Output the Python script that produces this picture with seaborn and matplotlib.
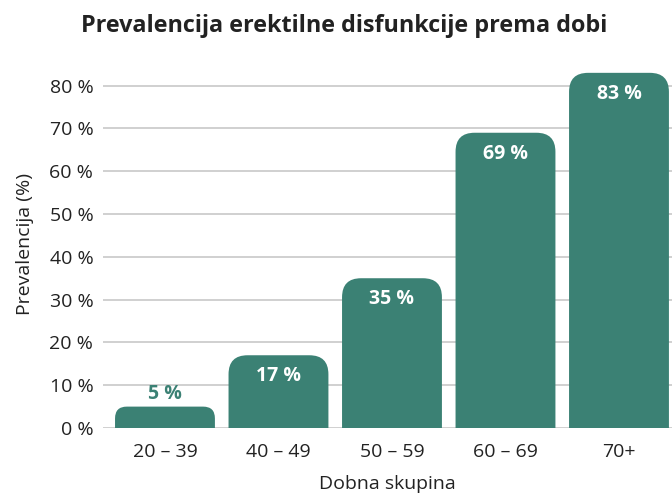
import seaborn as sns
import matplotlib.pyplot as plt
import pandas as pd
from matplotlib.patches import FancyBboxPatch

skupine = ["20 – 39", "40 – 49", "50 – 59", "60 – 69", "70+"]
prevalencija = [5, 17, 35, 69, 83]

df = pd.DataFrame({"Dobna skupina": skupine, "Prevalencija": prevalencija})

boja = "#3b8174"
tekst = "#222222"

sns.set_theme(style="white")
plt.rcParams['font.family'] = ['Open Sans', 'DejaVu Sans']

fig = plt.figure(figsize=(6.72, 4.97), dpi=100)
ax = fig.add_axes([103 / 672, 1 - 428 / 497, 569 / 672, (428 - 60) / 497])

sns.barplot(data=df, x="Dobna skupina", y="Prevalencija", color=boja,
            width=0.88, saturation=1, ax=ax, zorder=3)

ax.set_xlim(-0.546, 4.467)
ax.set_ylim(0, 86)
ax.set_yticks(range(0, 81, 10))
ax.set_yticklabels([f"{v} %" for v in range(0, 81, 10)])
ax.grid(axis="y", color="#c8c8c8", linewidth=1.2, zorder=0)
for s in ax.spines.values():
    s.set_visible(False)
ax.tick_params(axis="both", length=0, labelsize=14, colors=tekst)
ax.tick_params(axis="x", pad=11)
ax.tick_params(axis="y", pad=7)
ax.set_xlabel("Dobna skupina", fontsize=14, color=tekst, labelpad=10)
ax.set_ylabel("Prevalencija (%)", fontsize=14, color=tekst, labelpad=11)
fig.text(0.512, 0.948, "Prevalencija erektilne disfunkcije prema dobi",
         ha="center", va="center", fontsize=16.8, fontweight="bold", color=tekst)

# rounded top corners, bottom part is clipped at the axis
fig.canvas.draw()
px_x = abs(ax.transData.transform((1, 0))[0] - ax.transData.transform((0, 0))[0])
px_y = abs(ax.transData.transform((0, 1))[1] - ax.transData.transform((0, 0))[1])
aspect = px_x / px_y
for p in list(ax.patches):
    x, y, w, h = p.get_x(), p.get_y(), p.get_width(), p.get_height()
    p.set_visible(False)
    r_px = min(19, h * px_y * 0.55)
    r = r_px / px_x
    extra = 22 / px_y
    ax.add_patch(FancyBboxPatch((x, y - extra), w, h + extra,
                                boxstyle=f"round,pad=0,rounding_size={r}",
                                mutation_aspect=aspect, facecolor=boja,
                                edgecolor="none", zorder=3))

for i, v in enumerate(prevalencija):
    if v < 10:
        ax.text(i, v + 0.6, f"{v} %", ha="center", va="bottom", fontsize=14,
                fontweight="bold", color=boja, zorder=4)
    else:
        ax.text(i, v - 2.6, f"{v} %", ha="center", va="top", fontsize=14,
                fontweight="bold", color="white", zorder=4)

fig.savefig("out.png", dpi=100)
